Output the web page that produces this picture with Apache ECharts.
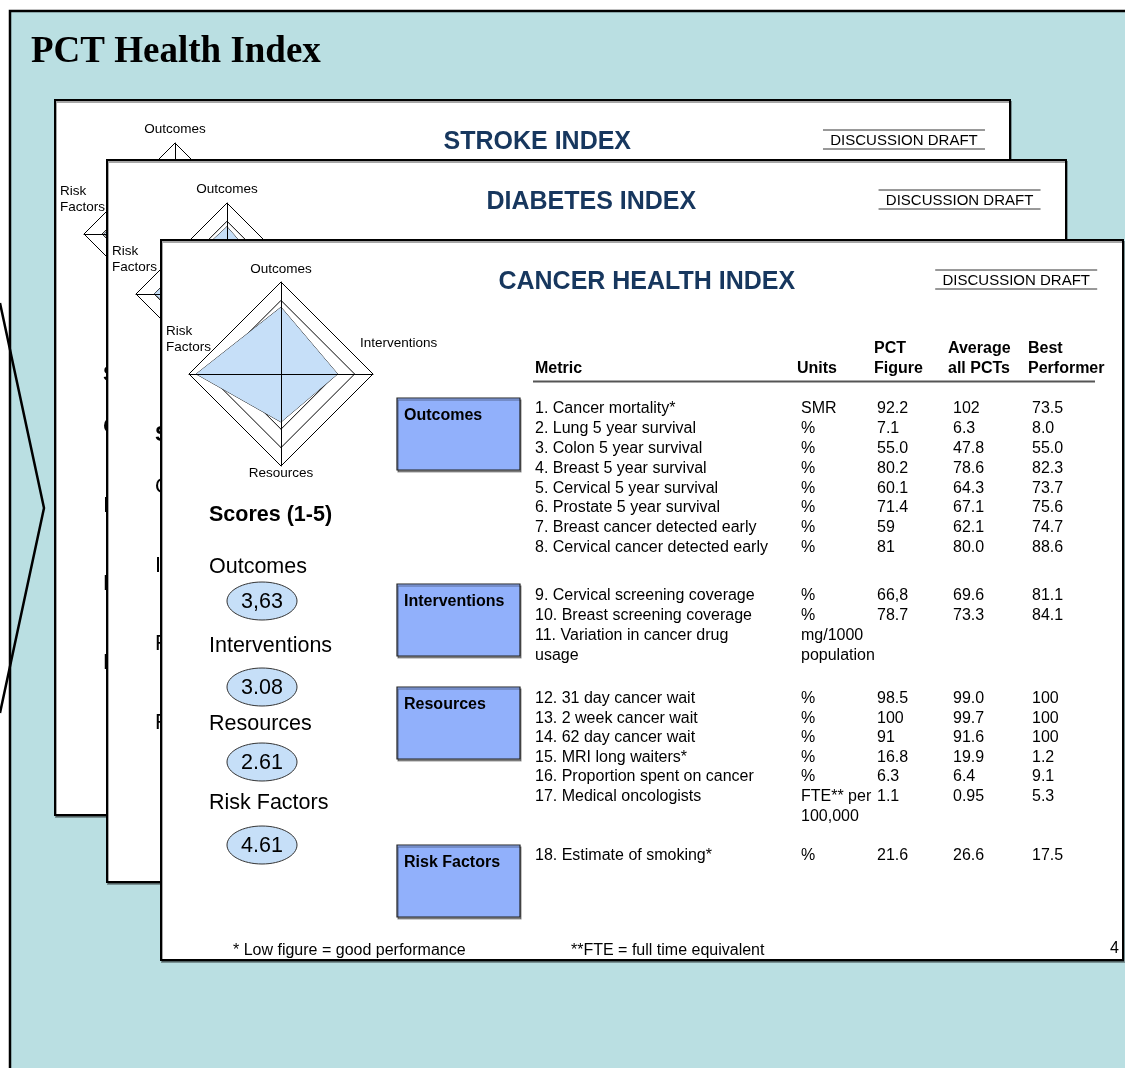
<!DOCTYPE html>
<html>
<head>
<meta charset="utf-8">
<script src="https://cdn.jsdelivr.net/npm/echarts@6/dist/echarts.min.js"></script>
<style>
html, body { margin: 0; padding: 0; background: #fff; }
#main { width: 1125px; height: 1068px; }
</style>
</head>
<body>
<div id="main"></div>
<script>
// radar axes, in the order echarts places them (top, left, bottom, right)
var radarAxes = ['Outcomes', 'Risk Factors', 'Resources', 'Interventions'];
// scores in display order
var scoreNames = ['Outcomes', 'Interventions', 'Resources', 'Risk Factors'];
var strokeScores = [3.4, 3.0, 2.8, 3.9];
var diabetesScores = [3.7, 3.2, 2.9, 4.0];
var cancerScores = [3.63, 3.08, 2.61, 4.61];
var cancerScoreLabels = ['3,63', '3.08', '2.61', '4.61'];

// cancer table
var sections = ['Outcomes', 'Interventions', 'Resources', 'Risk Factors'];
var metrics = ['1. Cancer mortality*', '2. Lung 5 year survival', '3. Colon 5 year survival',
  '4. Breast 5 year survival', '5. Cervical 5 year survival', '6. Prostate 5 year survival',
  '7. Breast cancer detected early', '8. Cervical cancer detected early',
  '9. Cervical screening coverage', '10. Breast screening coverage', '11. Variation in cancer drug\nusage',
  '12. 31 day cancer wait', '13. 2 week cancer wait', '14. 62 day cancer wait', '15. MRI long waiters*',
  '16. Proportion spent on cancer', '17. Medical oncologists',
  '18. Estimate of smoking*'];
var units = ['SMR', '%', '%', '%', '%', '%', '%', '%',
  '%', '%', 'mg/1000\npopulation',
  '%', '%', '%', '%', '%', 'FTE** per\n100,000',
  '%'];
var pctFigure = ['92.2', '7.1', '55.0', '80.2', '60.1', '71.4', '59', '81',
  '66,8', '78.7', '',
  '98.5', '100', '91', '16.8', '6.3', '1.1',
  '21.6'];
var avgAllPcts = ['102', '6.3', '47.8', '78.6', '64.3', '67.1', '62.1', '80.0',
  '69.6', '73.3', '',
  '99.0', '99.7', '91.6', '19.9', '6.4', '0.95',
  '26.6'];
var bestPerformer = ['73.5', '8.0', '55.0', '82.3', '73.7', '75.6', '74.7', '88.6',
  '81.1', '84.1', '',
  '100', '100', '100', '1.2', '9.1', '5.3',
  '17.5'];
var headerCols = ['Metric', 'Units', 'PCT\nFigure', 'Average\nall PCTs', 'Best\nPerformer'];
var footNotes = ['* Low figure = good performance', '**FTE = full time equivalent'];

// layout
var SANS = '"Liberation Sans", Arial, sans-serif';
var rowY = [409, 429, 449, 469, 489, 508, 528, 548, 596, 616, 636, 699, 719, 738, 758, 777, 797, 856];
var boxTop = [398, 584, 687, 845];
var colX = [535, 801, 877, 953, 1032];
var pages = [
  { title: 'STROKE INDEX', x: 55, y: 100, w: 955, h: 715, r: 91, scores: strokeScores },
  { title: 'DIABETES INDEX', x: 107, y: 160, w: 959, h: 722, r: 91, scores: diabetesScores },
  { title: 'CANCER HEALTH INDEX', x: 161, y: 240, w: 962, h: 720, r: 92, scores: cancerScores, labels: cancerScoreLabels }
];

function txt(x, y, s, font, z, opt) {
  opt = opt || {};
  return {
    type: 'text', x: x, y: y, z: z, silent: true,
    style: {
      text: s, font: font, fill: opt.fill || '#000',
      align: opt.align || 'left', verticalAlign: opt.va || 'middle',
      lineHeight: opt.lh || undefined
    }
  };
}

var elements = [];
var radars = [];
var series = [];

// background panel + title
elements.push({ type: 'rect', z: 1, shape: { x: 10, y: 11, width: 1130, height: 1070 },
  style: { fill: '#badfe2', stroke: '#000', lineWidth: 2.5 } });
elements.push(txt(31, 52, 'PCT Health Index', 'bold 37px "Liberation Serif", "Times New Roman", serif', 2));
elements.push({ type: 'polyline', z: 2, shape: { points: [[0, 303], [44, 508], [0, 713]] },
  style: { fill: null, stroke: '#000', lineWidth: 2.5 } });

pages.forEach(function (p, i) {
  var z = 10 + i * 10;
  var cx = p.x + 120, cy = p.y + 134;
  elements.push({ type: 'rect', z: z, shape: { x: p.x, y: p.y, width: p.w, height: p.h },
    style: { fill: '#fff', stroke: '#000', lineWidth: 2, shadowColor: 'rgba(0,0,0,0.35)', shadowOffsetX: 1, shadowOffsetY: 2 } });
  elements.push(txt(p.x + p.w * 0.505, p.y + 42, p.title, 'bold 25px ' + SANS, z + 4, { align: 'center', fill: '#17375e' }));
  var dX = p.x + p.w * 0.889;
  elements.push(txt(dX, p.y + 41, 'DISCUSSION DRAFT', '15px ' + SANS, z + 4, { align: 'center' }));
  elements.push({ type: 'line', z: z + 4, shape: { x1: dX - 81, y1: p.y + 30, x2: dX + 81, y2: p.y + 30 }, style: { stroke: '#333', lineWidth: 1 } });
  elements.push({ type: 'line', z: z + 4, shape: { x1: dX - 81, y1: p.y + 49, x2: dX + 81, y2: p.y + 49 }, style: { stroke: '#333', lineWidth: 1 } });

  // radar axis labels
  var lf = '13.5px ' + SANS;
  elements.push(txt(cx, cy - 105, radarAxes[0], lf, z + 4, { align: 'center' }));
  elements.push(txt(cx - 115, cy - 35, 'Risk\nFactors', lf, z + 4, { lh: 16 }));
  elements.push(txt(cx + 79, cy - 31, radarAxes[3], lf, z + 4));
  elements.push(txt(cx, cy + 99, radarAxes[2], lf, z + 4, { align: 'center' }));

  // radar: rings underneath, series, then the cross on top
  var indicator = radarAxes.map(function (n) { return { name: n, min: 0, max: 5 }; });
  radars.push({
    center: [cx, cy], radius: p.r, shape: 'polygon', splitNumber: 5, z: z + 1,
    indicator: indicator, axisName: { show: false },
    axisLine: { show: false }, splitArea: { show: false },
    splitLine: { lineStyle: { color: '#000', width: 1 } }
  });
  radars.push({
    center: [cx, cy], radius: p.r, shape: 'polygon', splitNumber: 5, z: z + 3,
    indicator: indicator, axisName: { show: false },
    axisLine: { lineStyle: { color: '#000', width: 1 } },
    splitArea: { show: false }, splitLine: { show: false }
  });
  var val = radarAxes.map(function (n) { return p.scores[scoreNames.indexOf(n)]; });
  series.push({
    type: 'radar', radarIndex: i * 2, z: z + 2, symbol: 'none', silent: true,
    lineStyle: { color: '#222', width: 1 },
    areaStyle: { color: '#c6dff8', opacity: 1 },
    data: [{ value: val, name: p.title }]
  });

  // scores column
  var sx = p.x + 48;
  elements.push(txt(sx, p.y + 275, 'Scores (1-5)', 'bold 21.5px ' + SANS, z + 4));
  var labY = [327, 406, 484, 563], ellY = [361, 447, 522, 605];
  scoreNames.forEach(function (n, k) {
    elements.push(txt(sx, p.y + labY[k], n, '21.5px ' + SANS, z + 4));
    elements.push({ type: 'ellipse', z: z + 4, shape: { cx: p.x + 101, cy: p.y + ellY[k], rx: 35, ry: 19 },
      style: { fill: '#c6dff8', stroke: '#333', lineWidth: 1 } });
    var lab = p.labels ? p.labels[k] : p.scores[k].toFixed(2);
    elements.push(txt(p.x + 101, p.y + ellY[k] + 1, lab, '21.5px ' + SANS, z + 5, { align: 'center' }));
  });
});

// cancer table (top page)
var zt = 36;
var bf = 'bold 16px ' + SANS, rf = '16px ' + SANS;
var hx = [535, 797, 874, 948, 1028];
headerCols.forEach(function (h, k) {
  var two = h.indexOf('\n') >= 0;
  elements.push(txt(hx[k], two ? 339 : 359, h, bf, zt, { va: 'top', lh: 20 }));
});
elements.push({ type: 'line', z: zt, shape: { x1: 533, y1: 381.5, x2: 1095, y2: 381.5 }, style: { stroke: '#555', lineWidth: 2 } });

sections.forEach(function (s, k) {
  elements.push({ type: 'rect', z: zt, shape: { x: 397, y: boxTop[k], width: 123, height: 72 },
    style: { fill: '#91b0fb', stroke: '#222', lineWidth: 1.2, shadowColor: 'rgba(0,0,0,0.4)', shadowOffsetX: 1, shadowOffsetY: 2 } });
  elements.push(txt(404, boxTop[k] + 18, s, bf, zt + 1));
});

var cols = [metrics, units, pctFigure, avgAllPcts, bestPerformer];
metrics.forEach(function (m, r) {
  cols.forEach(function (c, k) {
    if (c[r]) elements.push(txt(colX[k], rowY[r] - 10, c[r], rf, zt, { va: 'top', lh: 20 }));
  });
});

elements.push(txt(233, 951, footNotes[0], rf, zt));
elements.push(txt(571, 951, footNotes[1], rf, zt));
elements.push(txt(1119, 949, '4', rf, zt, { align: 'right' }));

var myChart = echarts.init(document.getElementById('main'), null, { renderer: 'canvas' });
var option = {
  animation: false,
  backgroundColor: '#fff',
  radar: radars,
  series: series,
  graphic: { elements: elements }
};
myChart.setOption(option);
</script>
</body>
</html>
